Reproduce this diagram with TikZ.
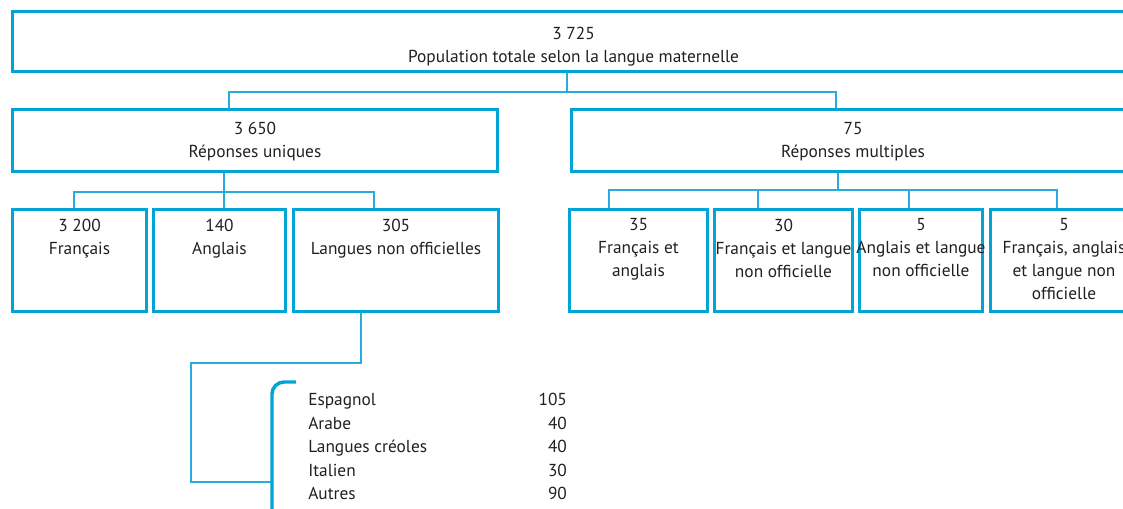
\documentclass[tikz,border=0pt]{standalone}
\usepackage{fontspec}
\setmainfont{PT Sans}
\usetikzlibrary{positioning,fit}

\definecolor{boxblue}{RGB}{0,165,214}
\definecolor{linkblue}{RGB}{40,172,222}
\definecolor{inkgray}{RGB}{35,31,32}

\tikzset{
  box/.style={draw=boxblue, line width=2.4pt, inner sep=0pt},
  link/.style={draw=linkblue, line width=0.9pt},
  txt/.style={align=center, inner sep=0pt, text=inkgray,
    font=\fontsize{13}{17.25}\selectfont},
  bracket/.style={draw=boxblue, line width=2.6pt, rounded corners=9pt},
}

\begin{document}
\begin{tikzpicture}[x=0.75pt, y=-0.75pt]
  \clip (0,0) rectangle (1123,508);

  % the boxes
  \node[box, fit={(12.5,11.5) (1134.5,71.5)}] (pop) {};
  \node[box, fit={(12.5,109.5) (497.5,171.5)}] (uniq) {};
  \node[box, fit={(571.5,109.5) (1134.5,171.5)}] (mult) {};

  \node[box, fit={(12.5,209.5) (146.5,311.5)}] (fr) {};
  \node[box, fit={(153.5,209.5) (285.5,311.5)}] (an) {};
  \node[box, fit={(293.5,209.5) (498.5,311.5)}] (lno) {};

  \node[box, fit={(569.5,209.5) (707.5,311.5)}] (fa) {};
  \node[box, fit={(714.5,209.5) (852.5,311.5)}] (fl) {};
  \node[box, fit={(859.5,209.5) (982.5,311.5)}] (al) {};
  \node[box, fit={(990.5,209.5) (1137.5,311.5)}] (fal) {};

  % texts
  \node[txt, below=13pt of pop.north] (pop-t) {3 725\\Population totale selon la langue maternelle};
  \node[txt, below=10.5pt of uniq.north] (uniq-t) {3 650\\Réponses uniques};
  \node[txt, below=10.5pt of mult.north] (mult-t) {75\\Réponses multiples};

  \node[txt, below=8pt of fr.north] (fr-t) {3 200\\Français};
  \node[txt, below=8pt of an.north] (an-t) {140\\Anglais};
  \node[txt, below=8pt of lno.north] (lno-t) {305\\Langues non officielles};

  \node[txt, below=8pt of fa.north] (fa-t) {35\\Français et\\anglais};
  \node[txt, below=8pt of fl.north] (fl-t) {30\\Français et langue\\non officielle};
  \node[txt, below=8pt of al.north] (al-t) {5\\Anglais et langue\\non officielle};
  \node[txt, below=8pt of fal.north] (fal-t) {5\\Français, anglais\\et langue non\\officielle};

  \node[txt, font=\fontsize{13}{17.6}\selectfont, anchor=base west] (langs) at (308,405.7) {%
    \begin{tabular*}{194pt}[t]{@{}l@{\extracolsep{\fill}}r@{}}
      Espagnol & 105\\
      Arabe & 40\\
      Langues créoles & 40\\
      Italien & 30\\
      Autres & 90
    \end{tabular*}};

  % junctions
  \coordinate (t0) at (567,92);
  \coordinate (t1) at (229,92);
  \coordinate (t2) at (836,92);
  \coordinate (u0) at (74,192);
  \coordinate (u1) at (224,192);
  \coordinate (u2) at (374,192);
  \coordinate (m0) at (838,190);
  \coordinate (m1) at (609,190);
  \coordinate (m2) at (758,190);
  \coordinate (m3) at (909,190);
  \coordinate (m4) at (1057,190);
  \coordinate (l1) at (361,363);
  \coordinate (l2) at (191,363);
  \coordinate (l3) at (191,482);
  \coordinate (bk) at (272,482);

  % connectors
  \draw[link] (pop.south -| t0) -- (t0);
  \draw[link] (uniq.north -| t1) -- (t1) -- (t2) -- (mult.north -| t2);

  \draw[link] (uniq.south -| u1) -- (an.north -| u1);
  \draw[link] (fr.north -| u0) -- (u0) -- (u2) -- (lno.north -| u2);

  \draw[link] (mult.south -| m0) -- (m0);
  \draw[link] (fa.north -| m1) -- (m1) -- (m4) -- (fal.north -| m4);
  \draw[link] (m2) -- (fl.north -| m2);
  \draw[link] (m3) -- (al.north -| m3);

  \draw[link] (lno.south -| l1) -- (l1) -- (l2) -- (l3) -- (bk);

  % bracket round the list
  \draw[bracket] (296,382) -- (272,382) -- (272,540) -- (296,540);
\end{tikzpicture}
\end{document}
